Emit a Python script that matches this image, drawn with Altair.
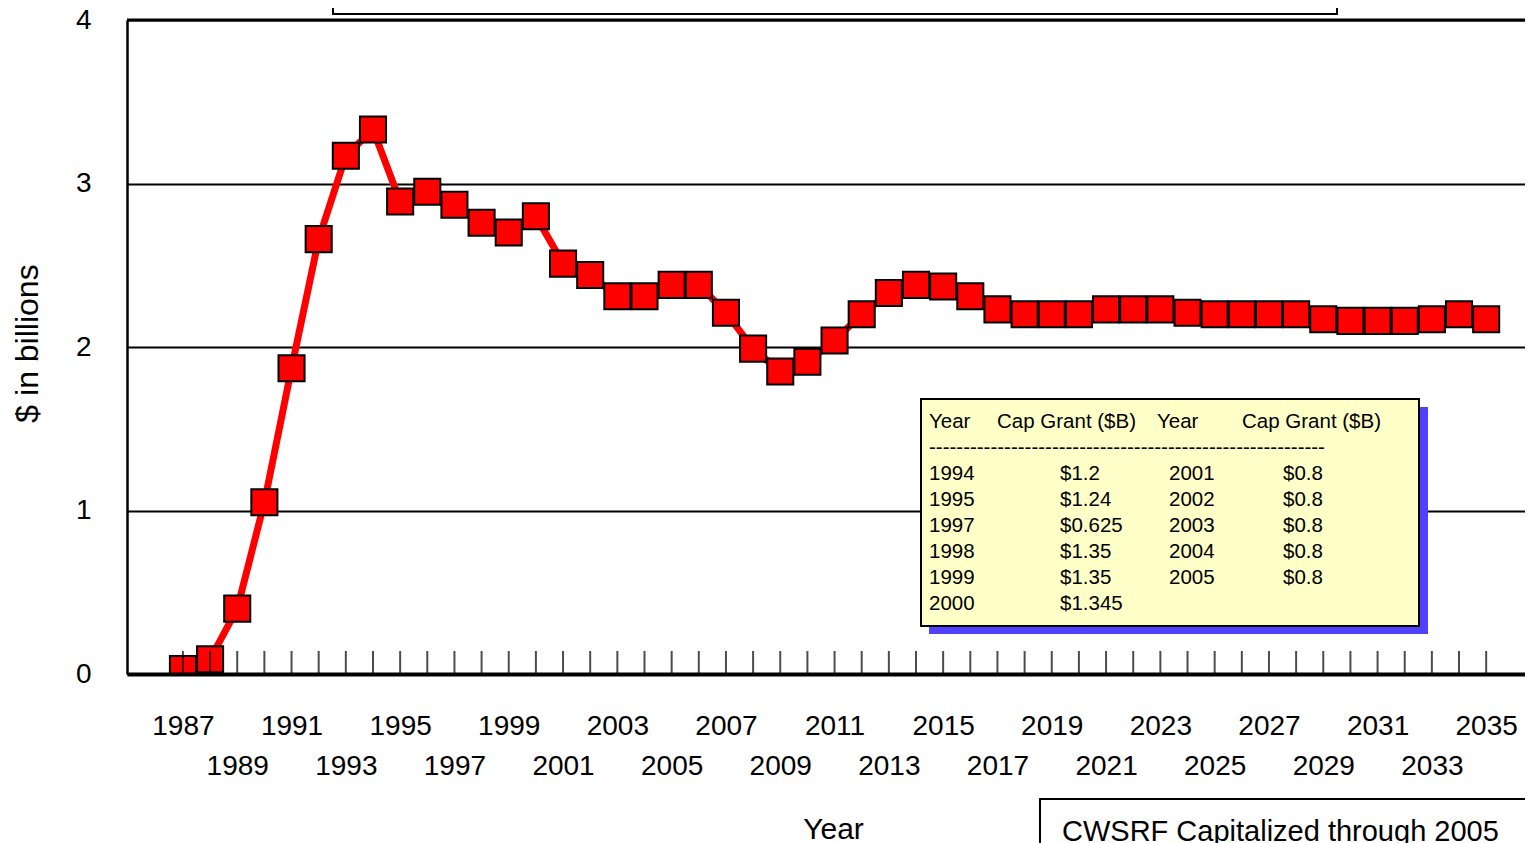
import altair as alt
import pandas as pd

# ---- data ----
years = [1987, 1988, 1989, 1990, 1991, 1992, 1993, 1994, 1995, 1996,
         1997, 1998, 1999, 2000, 2001, 2002, 2003, 2004, 2005, 2006,
         2007, 2008, 2009, 2010, 2011, 2012, 2013, 2014, 2015, 2016,
         2017, 2018, 2019, 2020, 2021, 2022, 2023, 2024, 2025, 2026,
         2027, 2028, 2029, 2030, 2031, 2032, 2033, 2034, 2035]
values = [0.03, 0.09, 0.40, 1.05, 1.87, 2.66, 3.17, 3.33, 2.89, 2.95,
          2.87, 2.76, 2.70, 2.80, 2.51, 2.44, 2.31, 2.31, 2.38, 2.38,
          2.21, 1.99, 1.85, 1.91, 2.04, 2.20, 2.33, 2.38, 2.37, 2.31,
          2.23, 2.20, 2.20, 2.20, 2.23, 2.23, 2.23, 2.21, 2.20, 2.20,
          2.20, 2.20, 2.17, 2.16, 2.16, 2.16, 2.17, 2.20, 2.17]

axis_label_years = [1987, 1989, 1991, 1993, 1995, 1997, 1999, 2001, 2003,
                    2005, 2007, 2009, 2011, 2013, 2015, 2017, 2019, 2021,
                    2023, 2025, 2027, 2029, 2031, 2033, 2035]
y_ticks = [0, 1, 2, 3, 4]

tbl_years_1 = ["1994", "1995", "1997", "1998", "1999", "2000"]
tbl_grants_1 = ["$1.2", "$1.24", "$0.625", "$1.35", "$1.35", "$1.345"]
tbl_years_2 = ["2001", "2002", "2003", "2004", "2005"]
tbl_grants_2 = ["$0.8", "$0.8", "$0.8", "$0.8", "$0.8"]
tbl_header = ["Year", "Cap Grant ($B)", "Year", "Cap Grant ($B)"]
note_text = "CWSRF Capitalized through 2005"

FONT = "Liberation Sans"
W, H = 1398, 654

df = pd.DataFrame({"year": years, "value": values})
one = pd.DataFrame({"a": [0]})

x_scale = alt.Scale(domain=[1984.94, 2036.43], nice=False, zero=False)
y_scale = alt.Scale(domain=[0, 4], nice=False)

x_axis = alt.Axis(
    values=axis_label_years, format="d",
    labelExpr="(datum.value - 1987) % 4 == 0 ? datum.label : ['', datum.label]",
    labelFont=FONT, labelFontSize=28, labelColor="black", labelPadding=38,
    labelBaseline="top", labelLineHeight=40, labelOverlap=False, labelFlush=False,
    ticks=False, grid=False, domainColor="black", domainWidth=4,
    title="Year", titleFont=FONT, titleFontSize=30, titleFontWeight="normal",
    titleColor="black", titleX=706, titleY=164, titleBaseline="alphabetic",
    titleAlign="center", zindex=1)

y_axis = alt.Axis(
    values=y_ticks, labelFont=FONT, labelFontSize=28, labelColor="black",
    labelPadding=36, ticks=False, grid=True, gridColor="black", gridWidth=2,
    gridOpacity=1, domainColor="black", domainWidth=2.5,
    title="$ in billions", titleFont=FONT, titleFontSize=32,
    titleFontWeight="normal", titleColor="black", titleX=-100, titleY=323,
    titleAngle=270, titleBaseline="middle", titleAlign="center")

X = alt.X("year:Q", scale=x_scale, axis=x_axis)
Y = alt.Y("value:Q", scale=y_scale, axis=y_axis)

base = alt.Chart(df).encode(x=X, y=Y)
line = base.mark_line(color="#FF0000", strokeWidth=7, clip=True)
points = base.mark_square(size=680, fill="#FF0000", stroke="black",
                          strokeWidth=2, opacity=1, clip=True)

ticks = alt.Chart(df).transform_calculate(value="0").mark_tick(
    orient="vertical", size=23, thickness=2, yOffset=-11.5, color="black"
).encode(x=X, y=Y)

top_rule = alt.Chart(one).mark_rule(color="black", strokeWidth=3).encode(
    x=alt.value(0), x2=alt.value(W), y=alt.value(0))

top_box = alt.Chart(one).mark_rect(fill="white", stroke="black", strokeWidth=2).encode(
    x=alt.value(206), x2=alt.value(1210), y=alt.value(-40), y2=alt.value(-6))

shadow = alt.Chart(one).mark_rect(fill="#5040FF").encode(
    x=alt.value(802), x2=alt.value(1301), y=alt.value(387), y2=alt.value(614))
table_box = alt.Chart(one).mark_rect(fill="#FFFFC8", stroke="black", strokeWidth=2).encode(
    x=alt.value(794), x2=alt.value(1292), y=alt.value(379), y2=alt.value(606))


def text_block(lines, x, y, size=20.5):
    return alt.Chart(one).mark_text(
        text=lines, font=FONT, fontSize=size, color="black", align="left",
        baseline="top", lineHeight=26
    ).encode(x=alt.value(x), y=alt.value(y))


ROW0 = 392
dashes = "-" * 58
col1 = text_block([tbl_header[0], dashes] + tbl_years_1, 802, ROW0)
hdr2 = text_block([tbl_header[1]], 870, ROW0)
hdr3 = text_block([tbl_header[2]], 1030, ROW0)
hdr4 = text_block([tbl_header[3]], 1115, ROW0)
col2 = text_block(tbl_grants_1, 933, ROW0 + 52)
col3 = text_block(tbl_years_2, 1042, ROW0 + 52)
col4 = text_block(tbl_grants_2, 1156, ROW0 + 52)

note_box = alt.Chart(one).mark_rect(fill="white", stroke="black", strokeWidth=2).encode(
    x=alt.value(913), x2=alt.value(1600), y=alt.value(779), y2=alt.value(900))
note = alt.Chart(one).mark_text(
    text=note_text, font=FONT, fontSize=29, color="black", align="left",
    baseline="alphabetic"
).encode(x=alt.value(935), y=alt.value(821))

chart = alt.layer(
    line, points, ticks, top_rule, top_box,
    shadow, table_box, col1, hdr2, hdr3, hdr4, col2, col3, col4,
    note_box, note
).properties(
    width=W, height=H,
    autosize=alt.AutoSizeParams(type="none"),
    padding={"left": 119, "top": 12, "right": 0, "bottom": 169},
    background="white"
).configure_view(stroke=None)

chart.save("out.html", embed_options={"renderer": "svg", "actions": False})
